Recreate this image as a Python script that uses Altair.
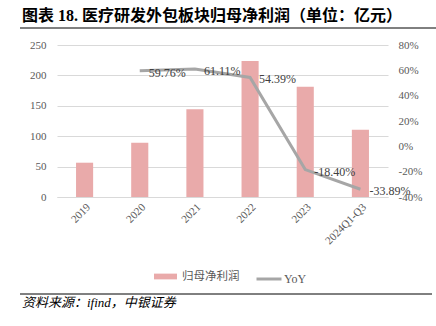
import altair as alt
import pandas as pd

categories = ["2019", "2020", "2021", "2022", "2023", "2024Q1-Q3"]
profit = [56.4, 89.3, 144.5, 223.7, 181.4, 110.5]
yoy = [None, 59.76, 61.11, 54.39, -18.40, -33.89]
left_ticks = [0, 50, 100, 150, 200, 250]
right_ticks = [-0.4, -0.2, 0.0, 0.2, 0.4, 0.6, 0.8]
title_text = "图表 18. 医疗研发外包板块归母净利润（单位：亿元）"
source_text = "资料来源：ifind，中银证券"

BAR = "#E9AAAA"
LINE = "#A6A6A6"
SERIF = "Liberation Serif, Noto Sans CJK SC"
CJK = "Noto Sans CJK SC"

df = pd.DataFrame({"cat": categories, "profit": profit, "yoy": yoy})
df["s1"] = "归母净利润"
ldf = df.dropna().copy()
ldf["yf"] = ldf["yoy"] / 100
ldf["lbl"] = ldf["yoy"].map(lambda v: f"{v:.2f}%")
ldf["s2"] = "YoY"

xenc = alt.X(
    "cat:N", sort=categories,
    scale=alt.Scale(paddingInner=0.69, paddingOuter=0.345),
    axis=alt.Axis(title=None, labelAngle=-45, labelFont=SERIF, labelFontSize=11,
                  labelColor="#595959", domainColor="#D9D9D9", ticks=False, labelPadding=4),
)

bars = alt.Chart(df).mark_bar().encode(
    x=xenc,
    y=alt.Y("profit:Q", scale=alt.Scale(domain=[0, 250], nice=False),
            axis=alt.Axis(title=None, values=left_ticks, grid=True, gridColor="#D9D9D9",
                          domain=False, ticks=False, labelFont=SERIF, labelFontSize=11,
                          labelColor="#595959", labelPadding=11)),
    color=alt.Color("s1:N", scale=alt.Scale(range=[BAR]),
                    legend=alt.Legend(title=None, orient="none", legendX=97, legendY=220,
                                      symbolType="M-1,-0.25L1,-0.25L1,0.25L-1,0.25Z",
                                      symbolSize=529, symbolStrokeWidth=0, labelFont=CJK,
                                      labelFontSize=11.5, labelColor="#595959", labelOffset=5,
                                      padding=0)),
)

yr = alt.Y("yf:Q", scale=alt.Scale(domain=[-0.4, 0.8], nice=False),
           axis=alt.Axis(title=None, orient="right", values=right_ticks, grid=False,
                         domain=False, ticks=False, labelFont=SERIF, labelFontSize=11,
                         labelColor="#595959", labelPadding=10,
                         labelExpr="(datum.value < -0.001 ? '-' : '') + format(abs(datum.value), '.0%')"))

line = alt.Chart(ldf).mark_line(strokeWidth=3).encode(
    x=alt.X("cat:N", sort=categories),
    y=yr,
    stroke=alt.Stroke("s2:N", scale=alt.Scale(range=[LINE]),
                      legend=alt.Legend(title=None, orient="none", legendX=198, legendY=220,
                                        symbolType="stroke", symbolSize=625,
                                        symbolStrokeWidth=3, labelFont=SERIF,
                                        labelFontSize=12, labelColor="#595959",
                                        labelOffset=1, padding=0)),
)

labels = alt.Chart(ldf).mark_text(align="left", baseline="middle", dx=9, dy=2,
                                  font=SERIF, fontSize=12, color="#404040").encode(
    x=alt.X("cat:N", sort=categories),
    y=alt.Y("yf:Q", scale=alt.Scale(domain=[-0.4, 0.8], nice=False), axis=None),
    text="lbl:N",
)

one = pd.DataFrame({"a": [0]})
title = alt.Chart(one).mark_text(text=title_text, align="left", baseline="middle",
                                 font=SERIF, fontSize=16, fontWeight="bold",
                                 color="#000000").encode(x=alt.value(-35), y=alt.value(-29))
rule_top = alt.Chart(one).mark_rule(color="#000000", strokeWidth=1).encode(
    x=alt.value(-37), x2=alt.value(379), y=alt.value(-17))
rule_bot = alt.Chart(one).mark_rule(color="#000000", strokeWidth=1).encode(
    x=alt.value(-37), x2=alt.value(375), y=alt.value(249))
source = alt.Chart(one).mark_text(text=source_text, align="left", baseline="middle",
                                  font=SERIF, fontSize=13, fontStyle="italic",
                                  color="#000000").encode(x=alt.value(-35), y=alt.value(258))

chart = alt.layer(bars, line, labels, title, rule_top, rule_bot, source).resolve_scale(
    y="independent", color="independent"
).properties(
    width=331, height=152,
    autosize=alt.AutoSizeParams(type="none"),
    padding={"left": 57, "top": 45, "right": 48, "bottom": 129},
).configure_view(stroke=None)

chart.save("out.html", embed_options={"renderer": "svg", "actions": False})
